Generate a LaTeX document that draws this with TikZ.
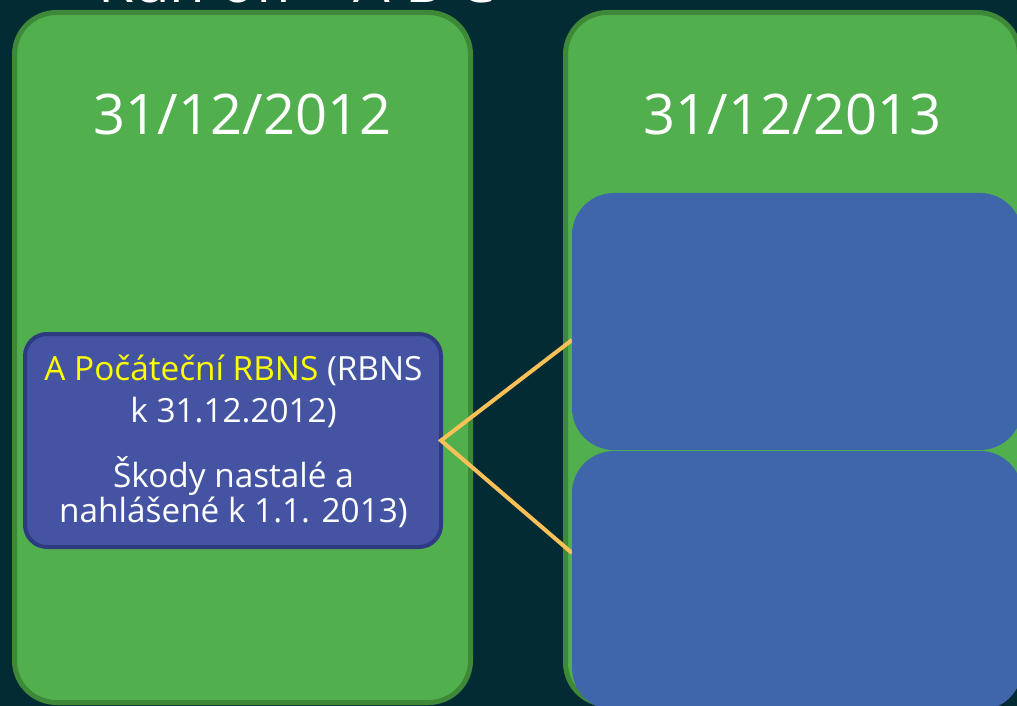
\documentclass[tikz,border=0pt]{standalone}
\usepackage{fontspec}
\setmainfont{Open Sans}
\definecolor{bgc}{RGB}{3,43,51}
\definecolor{grfill}{RGB}{82,175,78}
\definecolor{grline}{RGB}{62,137,56}
\definecolor{bluel}{RGB}{68,84,163}
\definecolor{bluelline}{RGB}{47,59,128}
\definecolor{bluer}{RGB}{63,102,171}
\definecolor{ylw}{RGB}{255,255,0}
\definecolor{orng}{RGB}{251,192,88}
\tikzset{
  panel/.style={rectangle, rounded corners=31.5pt, fill=grfill, draw=grline, line width=3.75pt, inner sep=0pt, outer sep=0pt},
  bluebox/.style={rectangle, rounded corners=31.5pt, fill=bluer, inner sep=0pt, outer sep=0pt},
  srcbox/.style={rectangle, rounded corners=16.5pt, fill=bluel, draw=bluelline, line width=3pt, inner sep=0pt, outer sep=0pt},
  datetxt/.style={text=white, font=\fontsize{42pt}{48pt}\selectfont, anchor=base, inner sep=0pt},
  bodytxt/.style={text=white, font=\fontsize{25pt}{30pt}\selectfont, anchor=base, inner sep=0pt},
  linkline/.style={draw=orng, line width=3pt}
}
\begin{document}
\begin{tikzpicture}[x=0.75pt,y=-0.75pt]
\useasboundingbox (0,0) rectangle (1017,706);
\fill[bgc] (0,0) rectangle (1017,706);
\begin{scope}
\clip (0,0) rectangle (1017,706);
\node[text=white, font=\fontsize{43.5pt}{50pt}\selectfont, anchor=base west, inner sep=0pt] (title) at (98,3) {Run off – A B C};
\node[panel, minimum width=342pt, minimum height=517.5pt] (p1) at (242.5,357.5) {};
\node[panel, minimum width=340.5pt, minimum height=519pt] (p2) at (792.5,358.5) {};
\node[datetxt] (d1) at (242.5,135) {31/12/2012};
\node[datetxt] (d2) at (792.5,135) {31/12/2013};
\coordinate (t1) at (572,340);
\coordinate (t2) at (572,553);
\node[srcbox, minimum width=312pt, minimum height=159.75pt] (src) at (233,440.5) {};
\draw[linkline] (t1) -- (src.east) -- (t2);
\node[bluebox, minimum width=337.5pt, minimum height=192.75pt] (b1) at (797,321.5) {};
\node[bluebox, minimum width=337.5pt, minimum height=194.25pt] (b2) at (797,580.5) {};
\node[bodytxt] (l1) at (233.5,380) {\textcolor{ylw}{A Počáteční RBNS} (RBNS};
\node[bodytxt] (l2) at (233.5,422) {k 31.12.2012)};
\node[bodytxt] (l3) at (233.5,487) {Škody nastalé a};
\node[bodytxt] (l4) at (233.5,522.5) {nahlášené k 1.1. 2013)};
\end{scope}
\end{tikzpicture}
\end{document}
